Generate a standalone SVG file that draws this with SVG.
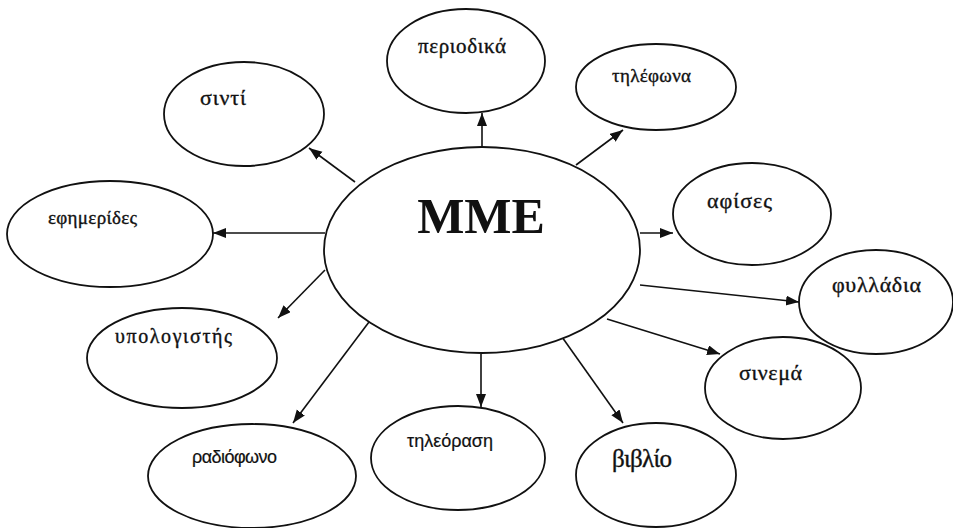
<svg xmlns="http://www.w3.org/2000/svg" width="953" height="528" viewBox="0 0 953 528">
  <defs>
    <marker id="arrow" markerUnits="userSpaceOnUse" markerWidth="14" markerHeight="12" refX="13" refY="5" orient="auto">
      <path d="M0,0 L13,5 L0,10 Z" fill="#111"/>
    </marker>
  </defs>
  <style>
    .node ellipse { fill: #fff; stroke: #111; stroke-width: 1.8; }
    .node text { font-family: "Liberation Serif", "DejaVu Serif", serif; fill: #111; stroke: #111; stroke-width: 0.35; }
    .node text.sans { font-family: "Liberation Sans", "DejaVu Sans", sans-serif; stroke-width: 0.2; }
    .hub text { font-family: "Liberation Serif", "Times New Roman", serif; font-weight: bold; text-anchor: middle; stroke: none; }
    #connectors line { stroke: #111; stroke-width: 1.6; marker-end: url(#arrow); }
  </style>
  <rect width="953" height="528" fill="#fff"/>

  <!-- connectors from the hub to each medium -->
  <g id="connectors">
    <line x1="482" y1="148" x2="482" y2="113"/>
    <line x1="576" y1="165" x2="623" y2="130"/>
    <line x1="640" y1="233" x2="673" y2="233"/>
    <line x1="640" y1="285" x2="799" y2="302"/>
    <line x1="607" y1="319" x2="720" y2="354"/>
    <line x1="562" y1="337" x2="623" y2="423"/>
    <line x1="481" y1="354" x2="481" y2="407"/>
    <line x1="372" y1="318" x2="293" y2="423"/>
    <line x1="325" y1="270" x2="278" y2="318"/>
    <line x1="325" y1="233" x2="213" y2="233"/>
    <line x1="355" y1="182" x2="309" y2="148"/>
  </g>

  <!-- hub -->
  <g id="mme" class="node hub">
    <ellipse cx="482" cy="250" rx="158" ry="103"/>
    <text x="481" y="233" font-size="50">MME</text>
  </g>

  <!-- media nodes -->
  <g id="periodika" class="node">
    <ellipse cx="466" cy="61" rx="79" ry="52"/>
    <text x="418" y="53" font-size="21" textLength="88">περιοδικά</text>
  </g>
  <g id="tilefona" class="node">
    <ellipse cx="656" cy="87" rx="80" ry="43"/>
    <text x="612" y="82" font-size="19" textLength="79">τηλέφωνα</text>
  </g>
  <g id="afises" class="node">
    <ellipse cx="752" cy="214" rx="79" ry="51"/>
    <text x="707" y="208" font-size="22" textLength="65">αφίσες</text>
  </g>
  <g id="fylladia" class="node">
    <ellipse cx="876" cy="302" rx="77" ry="52"/>
    <text x="832" y="292" font-size="22" textLength="89">φυλλάδια</text>
  </g>
  <g id="sinema" class="node">
    <ellipse cx="783" cy="388" rx="78" ry="51"/>
    <text x="739" y="380" font-size="22" textLength="63">σινεμά</text>
  </g>
  <g id="vivlio" class="node">
    <ellipse cx="656" cy="475" rx="80" ry="52"/>
    <text x="612" y="467" font-size="25" textLength="60">βιβλίο</text>
  </g>
  <g id="tileorasi" class="node">
    <ellipse cx="458" cy="458" rx="87" ry="52"/>
    <text class="sans" x="407" y="447" font-size="18" textLength="86">τηλεόραση</text>
  </g>
  <g id="radiofono" class="node">
    <ellipse cx="252" cy="476" rx="104" ry="52"/>
    <text class="sans" x="192" y="463" font-size="18" textLength="85">ραδιόφωνο</text>
  </g>
  <g id="ypologistis" class="node">
    <ellipse cx="182" cy="358" rx="95" ry="50"/>
    <text x="115" y="343" font-size="20" textLength="117">υπολογιστής</text>
  </g>
  <g id="efimerides" class="node">
    <ellipse cx="110" cy="234" rx="103" ry="53"/>
    <text x="48" y="224" font-size="19" textLength="89">εφημερίδες</text>
  </g>
  <g id="sinti" class="node">
    <ellipse cx="244" cy="114" rx="80" ry="52"/>
    <text x="200" y="105" font-size="22" textLength="46">σιντί</text>
  </g>
</svg>
